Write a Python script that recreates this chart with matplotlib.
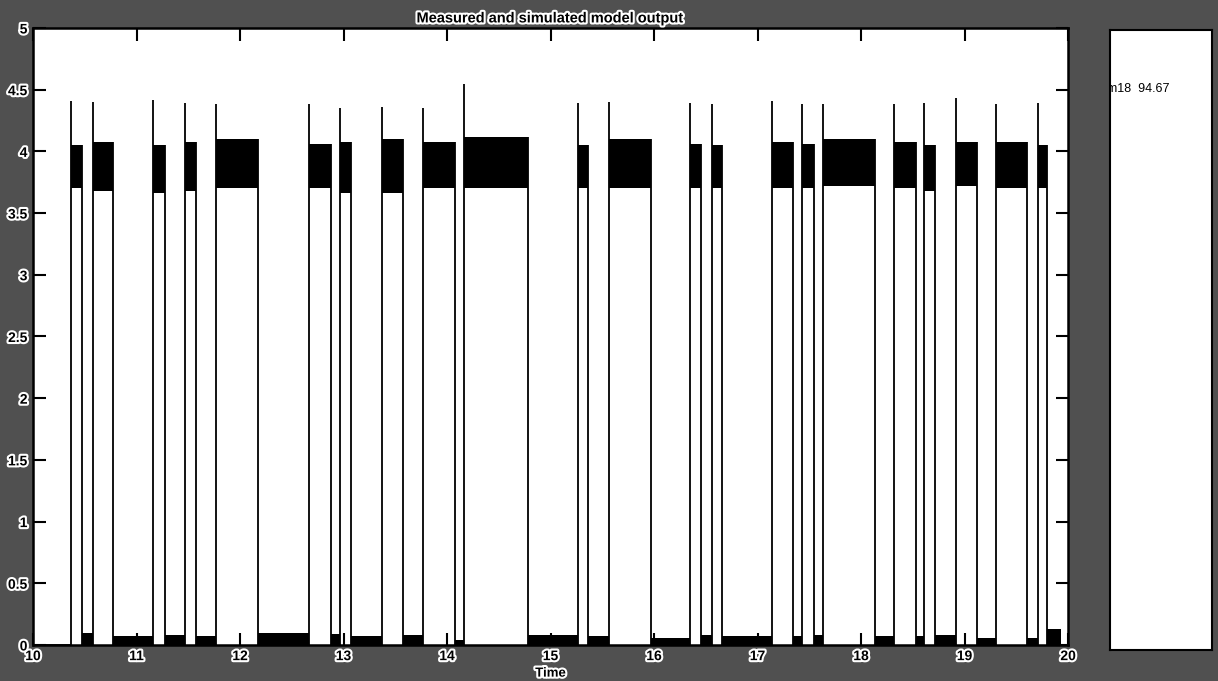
"""Measured and simulated model output: pulse train redrawn from a scanned figure."""

import matplotlib

matplotlib.use("Agg")
import matplotlib.pyplot as plt
import matplotlib.patheffects as pe
import numpy as np

# pulse edges (time)
pulse_start = [10.364, 10.577, 11.162, 11.469, 11.765, 12.664, 12.966, 13.369,
               13.771, 14.164, 15.269, 15.565, 16.348, 16.557, 17.137, 17.433,
               17.633, 18.319, 18.612, 18.915, 19.304, 19.707]
pulse_end = [10.471, 10.770, 11.275, 11.575, 12.174, 12.879, 13.070, 13.578,
             14.077, 14.780, 15.365, 15.971, 16.454, 16.654, 17.340, 17.543,
             18.135, 18.531, 18.715, 19.124, 19.607, 19.800]
# overshoot at the rising edge of every pulse
pulse_peak = [4.41, 4.40, 4.42, 4.39, 4.38, 4.38, 4.35, 4.36, 4.35, 4.55, 4.39,
              4.40, 4.39, 4.38, 4.41, 4.38, 4.38, 4.38, 4.39, 4.43, 4.38, 4.39]
# band covered by the noisy high level
high_lo = [3.70, 3.68, 3.66, 3.68, 3.70, 3.70, 3.66, 3.66, 3.70, 3.70, 3.70,
           3.70, 3.70, 3.70, 3.70, 3.70, 3.72, 3.70, 3.68, 3.72, 3.70, 3.70]
high_hi = [4.05, 4.08, 4.05, 4.08, 4.10, 4.06, 4.08, 4.10, 4.08, 4.12, 4.05,
           4.10, 4.06, 4.05, 4.08, 4.06, 4.10, 4.08, 4.05, 4.08, 4.08, 4.05]
# noisy low level after each pulse (top of the noise)
low_top = [0.10, 0.07, 0.08, 0.07, 0.10, 0.09, 0.07, 0.08, 0.04, 0.08, 0.07,
           0.06, 0.08, 0.07, 0.07, 0.08, 0.07, 0.07, 0.08, 0.06, 0.06, 0.13]
end_time = 19.93

y_ticks = [0, 0.5, 1, 1.5, 2, 2.5, 3, 3.5, 4, 4.5, 5]
y_tick_labels = ["0", "0.5", "1", "1.5", "2", "2.5", "3", "3.5", "4", "4.5", "5"]
x_ticks = [10, 11, 12, 13, 14, 15, 16, 17, 18, 19, 20]
fit_text = "m18  94.67"

halo = [pe.withStroke(linewidth=3, foreground="white")]
plt.rcParams["font.family"] = ["Liberation Sans", "DejaVu Sans"]

fig = plt.figure(figsize=(12.18, 6.81), dpi=100, facecolor="#505050")
ax = fig.add_axes([0.0271, 0.0529, 0.8498, 0.906])
ax.set_facecolor("white")

starts = np.array(pulse_start)
ends = np.array(pulse_end)
gap_ends = np.append(starts[1:], end_time)

# noisy low level between pulses
ax.bar(ends, low_top, width=gap_ends - ends, align="edge", color="black", lw=0)
# noisy high level
ax.bar(starts, np.array(high_hi) - np.array(high_lo), bottom=high_lo,
       width=ends - starts, align="edge", color="black", lw=0)
# edges
ax.vlines(starts, 0, pulse_peak, color="black", lw=1.3)
ax.vlines(ends, 0, high_hi, color="black", lw=1.3)
ax.hlines(0, 10, starts[0], color="black", lw=1.3)

ax.set_xlim(10, 20)
ax.set_ylim(0, 5)
ax.set_xticks(x_ticks)
ax.set_yticks(y_ticks)
ax.set_yticklabels(y_tick_labels)
ax.tick_params(direction="in", length=9, width=1.5, top=True, right=True,
               labelsize=10)
ax.tick_params(axis="x", pad=3)
ax.tick_params(axis="y", pad=4)
for lab in ax.get_xticklabels() + ax.get_yticklabels():
    lab.set_fontweight("bold")
    lab.set_path_effects(halo)
for sp in ax.spines.values():
    sp.set_linewidth(1.8)

# x label sits right at the bottom edge, under the tick labels
fig.text(0.452, 0.002, "Time", fontsize=9.5, fontweight="bold",
         ha="center", va="bottom", path_effects=halo)
ax.set_title("Measured and simulated model output", fontsize=10.5,
             fontweight="bold", pad=4, path_effects=halo)

# side panel holding the fit value
side = fig.add_axes([0.9113, 0.0455, 0.0837, 0.910])
side.set_facecolor("white")
side.set_xticks([])
side.set_yticks([])
for sp in side.spines.values():
    sp.set_linewidth(1.5)
side.set_xlim(0, 1)
side.set_ylim(0, 1)
side.text(-0.03, 0.905, fit_text, fontsize=9, va="center", ha="left",
          clip_on=True)

fig.savefig("out.png", dpi=100, facecolor=fig.get_facecolor())
